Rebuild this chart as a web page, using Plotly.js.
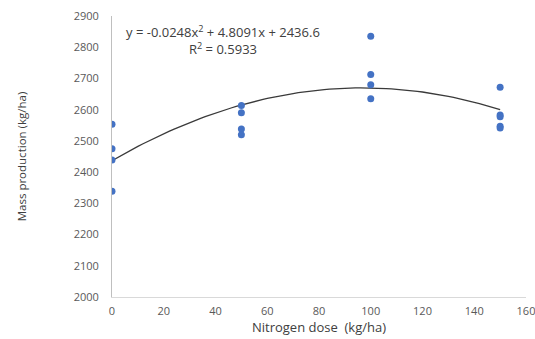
<!DOCTYPE html>
<html><head><meta charset="utf-8">
<script src="https://cdn.plot.ly/plotly-3.0.1.min.js"></script>
<style>html,body{margin:0;padding:0;background:#fff}#chart{width:535px;height:339px}</style>
</head><body><div id="chart"></div>
<script>
// Observed data (Nitrogen dose vs mass production)
const doseX = [0,0,0,0, 50,50,50,50, 100,100,100,100, 150,150,150,150,150];
const massY = [2553,2475,2439,2339, 2613,2590,2538,2520, 2835,2713,2680,2635, 2672,2583,2577,2547,2541];
// Trendline coefficients as shown on the chart
const coefA = -0.0248, coefB = 4.8091, coefC = 2436.6;
const eqText = "y = -0.0248x<sup>2</sup> + 4.8091x + 2436.6";
const r2Text = "R<sup>2</sup> = 0.5933";
const xTicks = [0,20,40,60,80,100,120,140,160];
const yTicks = [2000,2100,2200,2300,2400,2500,2600,2700,2800,2900];

const trendX = [], trendY = [];
for (let x = 0; x <= 150; x += 2) { trendX.push(x); trendY.push(coefA*x*x + coefB*x + coefC); }

const font = "Open Sans, Liberation Sans, sans-serif";
const data = [
  {x: trendX, y: trendY, mode: 'lines', line: {color: '#3a3a3a', width: 1.3}, hoverinfo: 'skip'},
  {x: doseX, y: massY, mode: 'markers', marker: {color: '#4472C4', size: 7}}
];
const layout = {
  width: 535, height: 339, showlegend: false,
  paper_bgcolor: '#fff', plot_bgcolor: '#fff',
  margin: {l: 112, r: 9, t: 16, b: 42},
  font: {family: font, color: '#595959', size: 11},
  xaxis: {range: [0,160], tickvals: xTicks, showgrid: false, zeroline: false,
    showline: true, linecolor: '#d9d9d9', linewidth: 1, ticks: '', ticklabelstandoff: 4,
    ticklabeloverflow: 'allow',
    tickfont: {size: 11, color: '#595959'},
    title: {text: 'Nitrogen dose  (kg/ha)', font: {size: 13, color: '#404040'}, standoff: 4}},
  yaxis: {range: [2000,2900], tickvals: yTicks, showgrid: false, zeroline: false,
    showline: true, linecolor: '#bfbfbf', linewidth: 1, ticks: '', ticklabelstandoff: 10,
    ticklabeloverflow: 'allow',
    tickfont: {size: 11, color: '#595959'},
    title: {text: 'Mass production (kg/ha)', font: {size: 11.5, color: '#404040'}, standoff: 44}},
  annotations: [
    {x: 42.9, y: 2849, xref: 'x', yref: 'y', text: eqText, showarrow: false, xanchor: 'center', yanchor: 'middle',
     font: {size: 13, color: '#404040', family: font}},
    {x: 42.9, y: 2796, xref: 'x', yref: 'y', text: r2Text, showarrow: false, xanchor: 'center', yanchor: 'middle',
     font: {size: 13, color: '#404040', family: font}}
  ]
};
Plotly.newPlot('chart', data, layout, {displayModeBar: false, staticPlot: true});
</script></body></html>
